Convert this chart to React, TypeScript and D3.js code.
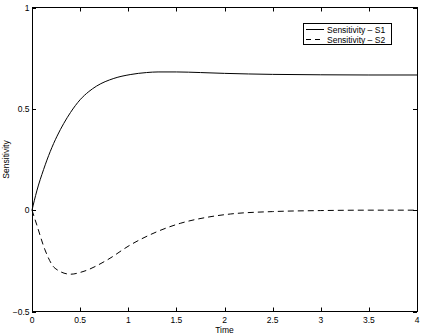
import React, { useEffect, useRef } from 'react';
import * as d3 from 'd3';

// values
const timeS1 = [0, 0.05, 0.12, 0.19, 0.26, 0.33, 0.4, 0.5, 0.59, 0.67, 0.85, 1.02, 1.19, 1.31, 1.5, 1.75, 2.0, 2.5, 3.0, 3.5, 4.0];
const valS1 = [0, 0.095, 0.2, 0.29, 0.365, 0.428, 0.482, 0.545, 0.585, 0.612, 0.65, 0.669, 0.679, 0.682, 0.682, 0.679, 0.675, 0.67, 0.668, 0.667, 0.667];
const timeS2 = [0, 0.05, 0.135, 0.24, 0.4, 0.53, 0.78, 1.02, 1.3, 1.54, 1.82, 2.06, 2.5, 3.0, 3.5, 4.0];
const valS2 = [0, -0.073, -0.196, -0.287, -0.316, -0.303, -0.246, -0.172, -0.106, -0.065, -0.035, -0.019, -0.007, -0.002, 0, 0];
const xTicks = [0, 0.5, 1, 1.5, 2, 2.5, 3, 3.5, 4];
const yTicks = [-0.5, 0, 0.5, 1];
const seriesNames = ['Sensitivity \u2013 S1', 'Sensitivity \u2013 S2'];

export default function App() {
  const svgRef = useRef<SVGSVGElement>(null);

  useEffect(() => {
    document.body.style.margin = '0';
    const svg = d3.select(svgRef.current);
    svg.selectAll('*').remove();

    const W = 423, H = 335;
    const m = { left: 32, right: 6, top: 7.5, bottom: 23.5 };
    const font = 'Liberation Sans, Arial, Helvetica, sans-serif';
    const fs = 8.5;

    const x = d3.scaleLinear().domain([0, 4]).range([m.left, W - m.right]);
    const y = d3.scaleLinear().domain([-0.5, 1]).range([H - m.bottom, m.top]);

    svg.append('rect').attr('width', W).attr('height', H).attr('fill', '#fff');

    // box
    svg.append('rect')
      .attr('x', x(0) + 0.5).attr('y', y(1))
      .attr('width', x(4) - x(0)).attr('height', y(-0.5) - y(1))
      .attr('fill', 'none').attr('stroke', '#000').attr('stroke-width', 1);

    const tl = 4;
    const g = svg.append('g').attr('stroke', '#000').attr('stroke-width', 1);
    xTicks.forEach(t => {
      const px = Math.round(x(t)) + 0.5;
      g.append('line').attr('x1', px).attr('x2', px).attr('y1', y(-0.5)).attr('y2', y(-0.5) - tl);
      g.append('line').attr('x1', px).attr('x2', px).attr('y1', y(1)).attr('y2', y(1) + tl);
    });
    yTicks.forEach(t => {
      const py = Math.round(y(t)) + 0.5;
      g.append('line').attr('x1', x(0)).attr('x2', x(0) + tl).attr('y1', py).attr('y2', py);
      g.append('line').attr('x1', x(4)).attr('x2', x(4) - tl).attr('y1', py).attr('y2', py);
    });

    svg.append('g').selectAll('text').data(xTicks).enter().append('text')
      .attr('x', d => x(d)).attr('y', y(-0.5) + 11.5)
      .attr('text-anchor', 'middle').attr('font-size', fs).attr('font-family', font)
      .text(d => String(d));

    svg.append('g').selectAll('text').data(yTicks).enter().append('text')
      .attr('x', x(0) - 2.5).attr('y', d => y(d) + 3)
      .attr('text-anchor', 'end').attr('font-size', fs).attr('font-family', font)
      .text(d => (d < 0 ? '\u2212' + Math.abs(d) : String(d)));

    svg.append('text')
      .attr('x', (x(0) + x(4)) / 2).attr('y', H - 2.5)
      .attr('text-anchor', 'middle').attr('font-size', fs).attr('font-family', font)
      .text('Time');

    svg.append('text')
      .attr('transform', `translate(9, ${(y(1) + y(-0.5)) / 2}) rotate(-90)`)
      .attr('text-anchor', 'middle').attr('font-size', fs).attr('font-family', font)
      .text('Sensitivity');

    const line = d3.line<[number, number]>()
      .x(d => x(d[0])).y(d => y(d[1]))
      .curve(d3.curveMonotoneX);

    const s1 = timeS1.map((t, i) => [t, valS1[i]] as [number, number]);
    const s2 = timeS2.map((t, i) => [t, valS2[i]] as [number, number]);

    svg.append('path').attr('d', line(s1)!)
      .attr('fill', 'none').attr('stroke', '#000').attr('stroke-width', 1);
    svg.append('path').attr('d', line(s2)!)
      .attr('fill', 'none').attr('stroke', '#000').attr('stroke-width', 1)
      .attr('stroke-dasharray', '6,4');

    // legend
    const lg = svg.append('g');
    lg.append('rect').attr('x', 303.5).attr('y', 23.5).attr('width', 88).attr('height', 21)
      .attr('fill', '#fff').attr('stroke', '#000').attr('stroke-width', 1);
    seriesNames.forEach((name, i) => {
      const ly = 29.5 + i * 10;
      lg.append('line').attr('x1', 306).attr('x2', 324).attr('y1', ly).attr('y2', ly)
        .attr('stroke', '#000').attr('stroke-width', 1)
        .attr('stroke-dasharray', i === 1 ? '5,4' : null);
      lg.append('text').attr('x', 327).attr('y', ly + 3)
        .attr('font-size', fs).attr('font-family', font)
        .text(name);
    });
  }, []);

  return (
    <div style={{ width: 423, height: 335 }}>
      <svg ref={svgRef} width={423} height={335} style={{ display: 'block' }} />
    </div>
  );
}
